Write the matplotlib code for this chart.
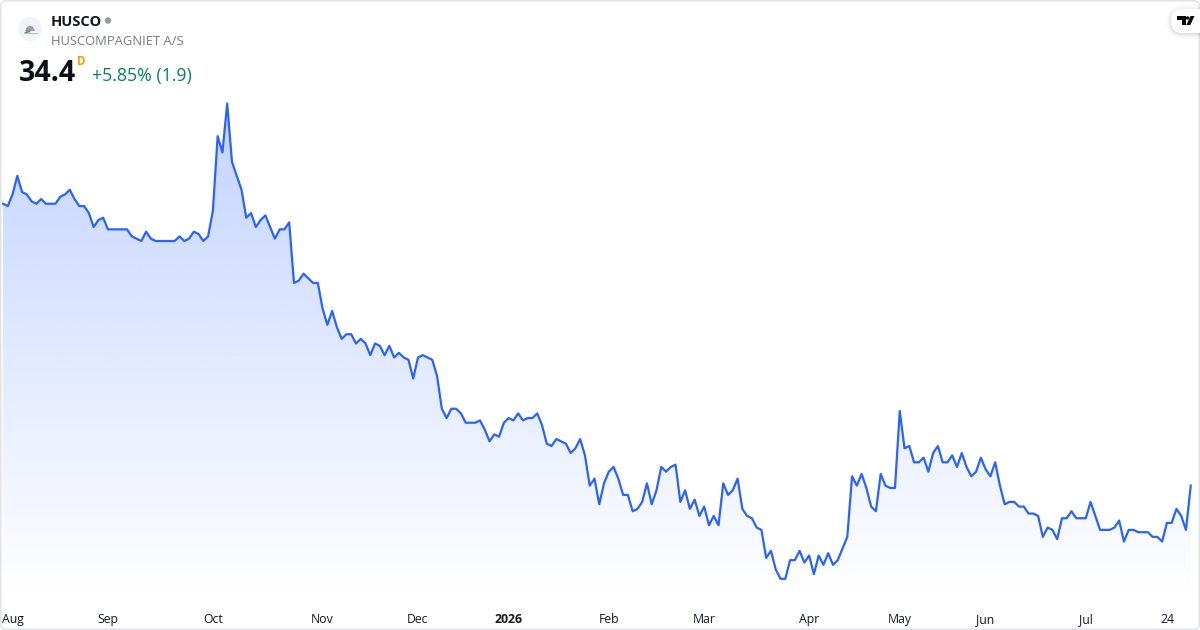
import matplotlib
matplotlib.use('Agg')
import matplotlib.pyplot as plt
import numpy as np
from matplotlib.patches import Circle, FancyBboxPatch, Polygon
from matplotlib.transforms import ScaledTranslation

plt.rcParams['font.family'] = ['Open Sans', 'DejaVu Sans']

# daily closes
close_aug_sep = [46.5, 46.4, 46.9, 47.7, 47.0, 46.9, 46.6, 46.5, 46.7, 46.5, 46.5, 46.5, 46.8, 46.9, 47.1, 46.7,
                 46.4, 46.4, 46.1, 45.5, 45.8, 45.9, 45.4, 45.4, 45.4, 45.4, 45.4, 45.1, 45.0, 44.9, 45.3, 45.0,
                 44.9, 44.9, 44.9, 44.9, 44.9, 45.1, 44.9, 45.0, 45.3, 45.2, 44.9, 45.1, 46.2]
close_oct_dec = [49.4, 48.7, 50.8, 48.3, 47.7, 47.1, 45.9, 46.1, 45.5, 45.8, 46.0, 45.5, 45.0, 45.4, 45.4, 45.7,
                 43.1, 43.2, 43.5, 43.3, 43.1, 43.1, 42.0, 41.3, 41.9, 41.2, 40.7, 40.9, 40.9, 40.5, 40.7, 40.5,
                 40.0, 40.5, 40.4, 40.0, 40.4, 39.9, 40.1, 39.9, 39.8, 39.0, 39.9, 40.0, 39.9, 39.8, 39.1, 37.7,
                 37.3, 37.7, 37.7, 37.5, 37.1, 37.1, 37.1, 37.2, 36.8, 36.3, 36.6, 36.5]
close_jan_mar = [37.1, 37.3, 37.2, 37.5, 37.2, 37.3, 37.3, 37.5, 37.0, 36.2, 36.1, 36.4, 36.3, 36.2, 35.8, 36.0,
                 36.4, 35.7, 34.4, 34.7, 33.6, 34.5, 35.0, 35.2, 34.7, 34.0, 34.0, 33.3, 33.4, 33.7, 34.5, 33.6,
                 34.2, 35.2, 35.0, 35.2, 35.3, 33.7, 34.2, 33.4, 33.8, 33.1, 33.5, 32.7, 33.1, 32.7, 34.5, 34.0,
                 34.2, 34.7, 33.4, 33.1, 33.0, 32.6, 32.5, 31.3, 31.6, 30.8, 30.4, 30.4]
close_apr_jun = [31.2, 31.2, 31.6, 31.1, 31.4, 30.6, 31.4, 31.0, 31.5, 31.0, 31.2, 31.7, 32.2, 34.8, 34.4, 34.9,
                 34.3, 33.5, 33.3, 34.9, 34.4, 34.3, 34.3, 37.6, 36.0, 36.1, 35.4, 35.4, 35.6, 35.0, 35.8, 36.1,
                 35.4, 35.4, 35.7, 35.2, 35.8, 35.2, 34.8, 35.0, 35.6, 35.1, 34.8, 35.4, 34.4, 33.6, 33.7, 33.7]
close_jun_jul = [33.5, 33.5, 33.2, 33.2, 33.1, 32.2, 32.6, 32.5, 32.1, 33.0, 33.0, 33.3, 33.0, 33.0, 33.0, 33.7,
                 33.1, 32.5, 32.5, 32.5, 32.6, 32.9, 32.0, 32.5, 32.5, 32.4, 32.4, 32.4, 32.2, 32.2, 32.0, 32.8,
                 32.8, 33.4, 33.1, 32.5, 34.4]
closes = close_aug_sep + close_oct_dec + close_jan_mar + close_apr_jun + close_jun_jul

tick_days = [0, 22, 44, 67, 87, 106, 127, 147, 169, 188, 206, 227, 244]
tick_names = ['Aug', 'Sep', 'Oct', 'Nov', 'Dec', '2026', 'Feb', 'Mar', 'Apr', 'May', 'Jun', 'Jul', '24']

LINE = '#2962FF'
TEXT = '#131722'
GREY = '#787B86'

fig = plt.figure(figsize=(12, 6.3), dpi=100, facecolor='white')

# the plot runs full width, from the top down to y=600px
ax = fig.add_axes([0, 30 / 630, 1, 600 / 630])
days = np.arange(len(closes))
step = 4.77
ax.plot(days, closes, color=LINE, lw=1.6, solid_joinstyle='round', zorder=3)

# gradient under the line
base = 29.49
top = max(closes)
grad = np.zeros((256, 1, 4))
grad[:, 0, :3] = matplotlib.colors.to_rgb(LINE)
grad[:, 0, 3] = np.linspace(0.28, 0, 256)
area = ax.fill_between(days, closes, base, color='none', lw=0)
im = ax.imshow(grad, extent=(days[0], days[-1], base, top), aspect='auto', origin='upper', zorder=2)
im.set_clip_path(area.get_paths()[0], transform=ax.transData)

ax.set_xlim(-3 / step, 1197 / step)
ax.set_ylim(base, 55.245)
ax.set_yticks([])
ax.set_xticks(tick_days)
ax.set_xticklabels(tick_names, fontsize=8.8, color=TEXT)
ax.tick_params(axis='x', length=0, pad=9.4)
for lab in ax.get_xticklabels():
    if lab.get_text() == 'Aug':
        lab.set_ha('left')
        lab.set_transform(lab.get_transform() + ScaledTranslation(-1.5 / 100, 0, fig.dpi_scale_trans))
    if lab.get_text() == '2026':
        lab.set_fontweight('bold')
for s in ax.spines.values():
    s.set_visible(False)
ax.patch.set_alpha(0)

# overlay in pixel coordinates for header, logo and card border
ov = fig.add_axes([0, 0, 1, 1])
ov.set_xlim(0, 1200)
ov.set_ylim(630, 0)
ov.axis('off')
ov.patch.set_alpha(0)

ov.add_patch(FancyBboxPatch((0.8, 0.8), 1198.4, 628.4, boxstyle='round,pad=0,rounding_size=5',
                            fc='none', ec='#E0E3EB', lw=1.1, zorder=1))

# company logo
ov.add_patch(Circle((30, 29), 12, fc='#F0F3FA', ec='none'))
ov.add_patch(Polygon([(25, 31), (27, 27), (30, 25.5), (33, 27), (35, 31)], fc='#9A9EA6', ec='none'))
ov.add_patch(Polygon([(24, 33), (28, 30), (31, 32), (27, 33)], fc='#5E9E58', ec='none'))
ov.plot([24, 37], [33, 33], color='#B8BCC4', lw=0.7)

ov.text(51, 21.5, 'HUSCO', fontsize=10.5, fontweight='bold', color=TEXT, va='center', ha='left')
ov.add_patch(Circle((108, 20.5), 3.2, fc='#9598A1', ec='none'))
ov.text(51, 41.5, 'HUSCOMPAGNIET A/S', fontsize=9.4, color=GREY, va='center', ha='left')
ov.text(19, 73.5, '34.4', fontsize=20.5, fontweight='bold', color='#0B0E14', va='center', ha='left')
ov.text(77, 61.5, 'D', fontsize=8.3, fontweight='bold', color='#FF9800', va='center', ha='left')
ov.text(92, 76, '+5.85% (1.9)', fontsize=12.8, color='#067F6C', va='center', ha='left')

# TradingView badge with soft shadow
for grow, alpha in [(5, 0.015), (3.5, 0.02), (2, 0.03), (1, 0.04)]:
    ov.add_patch(FancyBboxPatch((1171 - grow, 9 - grow + 1), 40 + grow, 24 + 2 * grow,
                                boxstyle='round,pad=0,rounding_size=%g' % (12 + grow),
                                fc='black', ec='none', alpha=alpha, zorder=5))
ov.add_patch(FancyBboxPatch((1171, 9), 40, 24, boxstyle='round,pad=0,rounding_size=12',
                            fc='white', ec='none', zorder=6))
ov.add_patch(Polygon([(1177, 16), (1185.5, 16), (1185.5, 25), (1181.5, 25), (1181.5, 20), (1177, 20)],
                     fc='#0B0B0F', ec='none', zorder=7))
ov.add_patch(Circle((1187.6, 18), 1.7, fc='#0B0B0F', ec='none', zorder=7))
ov.add_patch(Polygon([(1190.5, 16), (1194.5, 16), (1190.3, 25), (1186.3, 25)], fc='#0B0B0F', ec='none', zorder=7))

fig.savefig('out.png', dpi=100)
